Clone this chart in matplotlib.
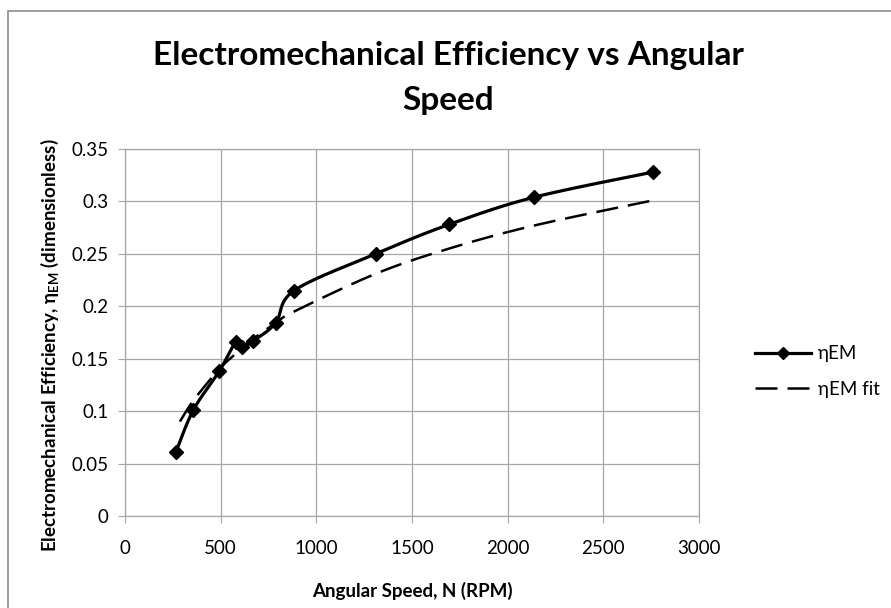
import numpy as np
import matplotlib
matplotlib.use("Agg")
import matplotlib.pyplot as plt
from matplotlib.patches import Rectangle

plt.rcParams['font.family'] = ['Lato', 'DejaVu Sans']
plt.rcParams['mathtext.fontset'] = 'custom'
plt.rcParams['mathtext.rm'] = 'Lato'
plt.rcParams['mathtext.bf'] = 'Lato:bold'

# data
speed = [266, 357, 492, 580, 614, 670, 787, 884, 1310, 1693, 2138, 2760]
eta = [0.061, 0.101, 0.138, 0.166, 0.161, 0.167, 0.184, 0.215, 0.250, 0.278, 0.304, 0.328]

speed_fit = [287, 357, 492, 580, 614, 670, 787, 884, 1310, 1693, 2138, 2760]
eta_fit = [0.090, 0.110, 0.140, 0.155, 0.161, 0.169, 0.184, 0.195, 0.231, 0.255, 0.277, 0.301]

x_ticks = [0, 500, 1000, 1500, 2000, 2500, 3000]
y_ticks = [0, 0.05, 0.1, 0.15, 0.2, 0.25, 0.3, 0.35]
y_ticklabels = ['0', '0.05', '0.1', '0.15', '0.2', '0.25', '0.3', '0.35']


def smooth(x, y, n=30):
    # Excel-like smoothed line: cubic bezier with catmull-rom tangents
    p = np.column_stack([x, y]).astype(float)
    pts = [p[0]]
    for i in range(len(p) - 1):
        p0 = p[i - 1] if i > 0 else p[i]
        p1, p2 = p[i], p[i + 1]
        p3 = p[i + 2] if i + 2 < len(p) else p[i + 1]
        c1 = p1 + (p2 - p0) / 6
        c2 = p2 - (p3 - p1) / 6
        t = np.linspace(0, 1, n)[1:, None]
        seg = (1 - t)**3 * p1 + 3 * (1 - t)**2 * t * c1 + 3 * (1 - t) * t**2 * c2 + t**3 * p2
        pts.extend(seg)
    pts = np.array(pts)
    return pts[:, 0], pts[:, 1]


fig = plt.figure(figsize=(8.91, 6.08), dpi=100)
ax = fig.add_axes([125/891, 1 - 516/608, 574/891, 367/608])

grid_c = '#a6a6a6'
for v in x_ticks:
    ax.axvline(v, color=grid_c, lw=0.9, zorder=0)
for v in y_ticks:
    ax.axhline(v, color=grid_c, lw=0.9, zorder=0)

sx, sy = smooth(speed, eta)
ax.plot(sx, sy, color='black', lw=2.3, zorder=3)
ax.plot(speed, eta, ls='none', marker='D', ms=7.5, color='black', zorder=4)

fx, fy = smooth(speed_fit, eta_fit)
ax.plot(fx, fy, color='black', lw=1.8, dashes=(8.8, 4), zorder=2)

# legend proxies
h1, = ax.plot([], [], color='black', lw=2.3, marker='D', ms=6)
h2, = ax.plot([], [], color='black', lw=1.8, dashes=(8.8, 4))
ax.legend([h1, h2], ['ηEM', 'ηEM fit'], loc='center left',
          bbox_to_anchor=(755/891, 1 - 371.5/608), bbox_transform=fig.transFigure,
          frameon=False, fontsize=13.5, handlelength=3.0, handletextpad=0.35,
          labelspacing=1.0, borderpad=0, borderaxespad=0)

ax.set_xlim(0, 3000)
ax.set_ylim(0, 0.35)
ax.set_xticks(x_ticks)
ax.set_yticks(y_ticks)
ax.set_yticklabels(y_ticklabels)
ax.tick_params(axis='both', labelsize=13.5, color=grid_c, length=5, direction='out')
ax.tick_params(axis='y', pad=7)
ax.tick_params(axis='x', pad=12)
for s in ax.spines.values():
    s.set_color(grid_c)
    s.set_linewidth(0.9)

fig.text(0.503, 1 - 110/608, 'Electromechanical Efficiency vs Angular\nSpeed',
         ha='center', va='baseline', fontsize=24, fontweight='bold', linespacing=1.65)
fig.text(412/891, 1 - 591/608, 'Angular Speed, N (RPM)', ha='center', va='center',
         fontsize=13.5, fontweight='bold')
fig.text(50/891, 1 - 345/608,
         r'Electromechanical Efficiency, η$_{\mathbf{EM}}$ (dimensionless)',
         ha='center', va='center', rotation=90, fontsize=13.5, fontweight='bold')

# chart area border (cropped on right and bottom)
fig.patches.append(Rectangle((8/891, -0.05), 1.1, 1 - 11/608 + 0.05,
                             transform=fig.transFigure, fill=False,
                             edgecolor='#8c8c8c', lw=1.2))

fig.savefig('out.png', dpi=100)
